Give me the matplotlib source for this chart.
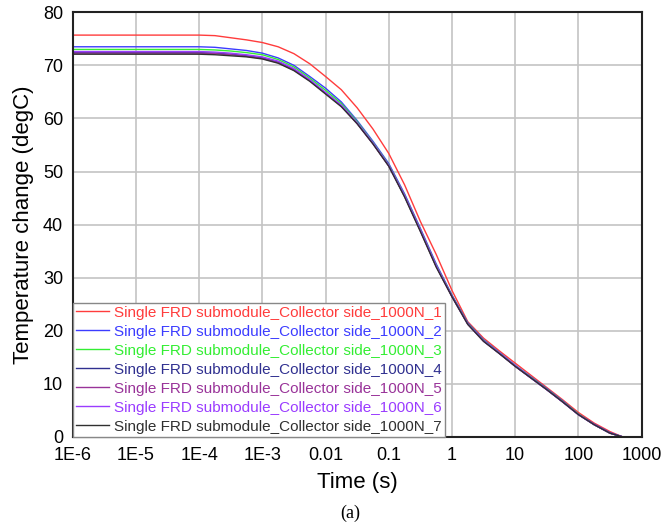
import numpy as np
import matplotlib.pyplot as plt

plt.rcParams['font.family'] = ['Liberation Sans', 'DejaVu Sans']

# czas [s], punkty (log10)
logt = [-6, -4, -3.75, -3.5, -3.25, -3, -2.75, -2.5, -2.25, -2, -1.75, -1.5, -1.25, -1,
        -0.75, -0.5, -0.25, 0, 0.25, 0.5, 0.75, 1, 1.25, 1.5, 1.75, 2, 2.25, 2.5, 2.7]
t = [10.0 ** v for v in logt]

s1 = [75.7, 75.7, 75.6, 75.2, 74.8, 74.3, 73.5, 72.2, 70.3, 67.9, 65.4, 62.0, 58.0, 53.4,
      47.5, 40.6, 34.4, 27.6, 21.7, 18.6, 16.2, 13.9, 11.6, 9.3, 7.0, 4.6, 2.6, 1.0, 0.0]
s2 = [73.5, 73.5, 73.4, 73.1, 72.8, 72.3, 71.4, 70.0, 67.9, 65.7, 63.1, 59.6, 55.7, 51.5,
      45.8, 39.3, 32.6, 26.7, 21.5, 18.3, 15.9, 13.5, 11.3, 9.1, 6.8, 4.3, 2.4, 0.8, 0.0]
s3 = [73.0, 73.0, 72.9, 72.7, 72.4, 72.0, 71.1, 69.7, 67.6, 65.3, 62.8, 59.4, 55.5, 51.3,
      45.6, 39.1, 32.4, 26.6, 21.4, 18.2, 15.8, 13.4, 11.2, 9.0, 6.7, 4.3, 2.3, 0.7, 0.0]
s4 = [72.4, 72.4, 72.3, 72.1, 71.8, 71.4, 70.6, 69.2, 67.2, 64.8, 62.4, 59.1, 55.3, 51.1,
      45.4, 38.9, 32.2, 26.5, 21.3, 18.1, 15.7, 13.3, 11.1, 8.9, 6.6, 4.2, 2.3, 0.7, 0.0]
s5 = [72.3, 72.3, 72.2, 72.0, 71.7, 71.3, 70.5, 69.1, 67.1, 64.7, 62.3, 59.0, 55.2, 51.0,
      45.3, 38.8, 32.1, 26.4, 21.2, 18.0, 15.7, 13.3, 11.1, 8.9, 6.6, 4.2, 2.3, 0.7, 0.0]
s6 = [72.6, 72.6, 72.5, 72.3, 72.0, 71.6, 70.8, 69.4, 67.3, 64.9, 62.5, 59.2, 55.4, 51.2,
      45.5, 39.0, 32.3, 26.5, 21.3, 18.1, 15.8, 13.4, 11.1, 8.9, 6.6, 4.2, 2.3, 0.7, 0.0]
s7 = [72.1, 72.1, 72.0, 71.8, 71.6, 71.2, 70.4, 69.0, 67.0, 64.6, 62.2, 59.0, 55.2, 51.0,
      45.2, 38.7, 32.0, 26.4, 21.2, 18.0, 15.7, 13.3, 11.1, 8.9, 6.6, 4.2, 2.3, 0.7, 0.0]

serie = [s1, s2, s3, s4, s5, s6, s7]
kolory = ['#ff3c3c', '#3c3cff', '#33ee33', '#303090', '#993399', '#9a3cff', '#303030']
etykiety = ['Single FRD submodule_Collector side_1000N_%d' % i for i in range(1, 8)]

xticks = [1e-6, 1e-5, 1e-4, 1e-3, 1e-2, 1e-1, 1, 10, 100, 1000]
xlabels = ['1E-6', '1E-5', '1E-4', '1E-3', '0.01', '0.1', '1', '10', '100', '1000']
yticks = [0, 10, 20, 30, 40, 50, 60, 70, 80]

fig = plt.figure(figsize=(6.63, 5.27), dpi=100)
ax = fig.add_axes([0.1097, 0.171, 0.858, 0.8057])

for s, c, l in zip(serie, kolory, etykiety):
    ax.plot(t, s, color=c, linewidth=1.0, label=l)

ax.set_xscale('log')
ax.set_xlim(1e-6, 1000)
ax.set_ylim(0, 80)
ax.set_xticks(xticks, xlabels)
ax.minorticks_off()
ax.set_yticks(yticks)
ax.grid(True, color='#c4c4c4', linewidth=1.2)
ax.tick_params(length=0, labelsize=13)
ax.tick_params(axis='y', pad=7)
ax.tick_params(axis='x', pad=7)
for sp in ax.spines.values():
    sp.set_linewidth(1.5)
    sp.set_color('#222222')

ax.set_xlabel('Time (s)', fontsize=16, labelpad=6)
ax.set_ylabel('Temperature change (degC)', fontsize=16, labelpad=6)

leg = ax.legend(loc='lower left', borderaxespad=0, fontsize=11, labelspacing=0.33,
                handlelength=2.2, handletextpad=0.3, borderpad=0.2, fancybox=False,
                framealpha=1, edgecolor='#888888')
for txt, c in zip(leg.get_texts(), kolory):
    txt.set_color(c)

fig.text(0.528, 0.026, '(a)', fontsize=13, family='Liberation Serif', ha='center', va='center')

fig.savefig('out.png', dpi=100)
